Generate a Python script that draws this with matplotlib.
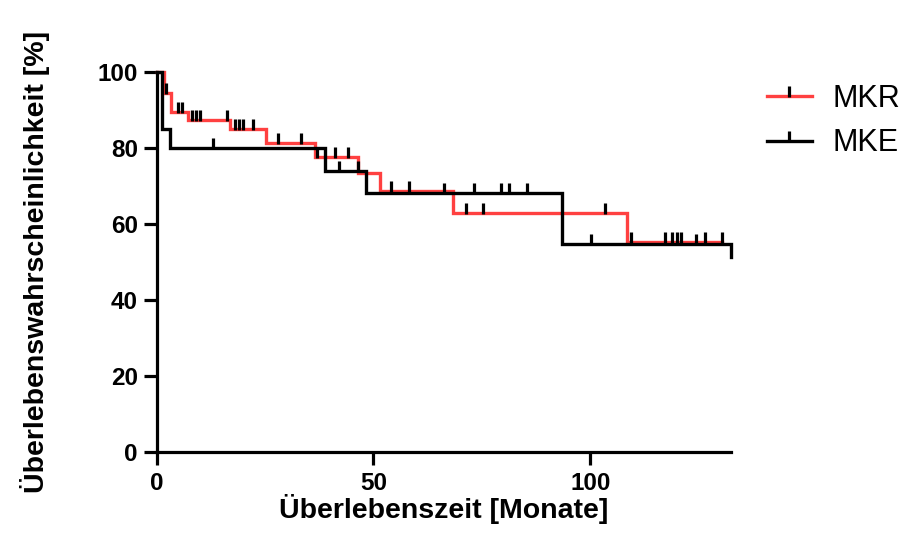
import numpy as np
import matplotlib
matplotlib.use("Agg")
import matplotlib.pyplot as plt
from matplotlib.path import Path
from matplotlib.lines import Line2D

# ---- data ----
mkr_times = [0, 1.6, 3.2, 7.3, 16.9, 25.1, 36.5, 46.5, 51.5, 68.3, 108.4]
mkr_surv = [100, 94.5, 89.6, 87.5, 85.0, 81.4, 77.6, 73.5, 68.8, 62.9, 55.4]
mkr_end = 130.4
mkr_censor = [2.1, 5.0, 5.9, 8.1, 9.0, 10.0, 16.1, 18.0, 19.0, 20.0, 22.1,
              28.0, 33.2, 36.9, 41.1, 44.2, 54.1, 58.1, 71.4, 75.2, 103.4,
              109.4, 117.3, 118.9, 120.0, 121.0, 126.5, 130.4]

mke_times = [0, 1.15, 3.1, 38.8, 48.2, 93.4, 132.5]
mke_surv = [100, 85.0, 80.0, 74.0, 68.3, 54.9, 51.5]
mke_end = 132.5
mke_censor = [13.0, 42.1, 46.4, 66.3, 73.3, 79.4, 81.3, 85.4, 100.3, 124.4]

labels = ["MKR", "MKE"]
x_ticks = [0, 50, 100]
y_ticks = [0, 20, 40, 60, 80, 100]

RED = "#FF4040"
BLACK = "#000000"

plt.rcParams['font.family'] = ['Liberation Sans', 'DejaVu Sans']

fig = plt.figure(figsize=(9.05, 5.42), dpi=100)
ax = fig.add_axes([0.1732, 0.1655, 0.6346, 0.7011])

tick_marker = Path([(0, -0.15), (0, 1.0)], [Path.MOVETO, Path.LINETO])


def surv_at(times, surv, t):
    idx = np.searchsorted(np.array(times), np.array(t), side='right') - 1
    return np.array(surv)[idx]


series = [
    (mkr_times, mkr_surv, mkr_end, mkr_censor, RED, 2),
    (mke_times, mke_surv, mke_end, mke_censor, BLACK, 3),
]
handles = []
for (times, surv, end, cens, col, z), lab in zip(series, labels):
    xs = list(times) + [end]
    ys = list(surv) + [surv[-1]]
    ax.plot(xs, ys, drawstyle='steps-post', color=col, lw=2.4,
            clip_on=False, zorder=z, solid_joinstyle='miter')
    ax.plot(cens, surv_at(times, surv, cens), linestyle='none',
            marker=tick_marker, markersize=14, markeredgewidth=2.3,
            markeredgecolor=BLACK, clip_on=False, zorder=5)
    handles.append(Line2D([0], [0], color=col, lw=2.4, marker=tick_marker,
                          markersize=14, markeredgewidth=2.3,
                          markeredgecolor=BLACK))

ax.set_xlim(0, 132.5)
ax.set_ylim(0, 100)
ax.set_xticks(x_ticks)
ax.set_yticks(y_ticks)
for s in ['top', 'right']:
    ax.spines[s].set_visible(False)
for s in ['left', 'bottom']:
    ax.spines[s].set_linewidth(2.3)
ax.tick_params(axis='both', direction='out', length=9.5, width=2.3,
               labelsize=17.5)
ax.tick_params(axis='x', pad=5)
ax.tick_params(axis='y', pad=4)
for lbl in ax.get_xticklabels() + ax.get_yticklabels():
    lbl.set_fontweight('bold')

ax.set_xlabel("Überlebenszeit [Monate]", fontsize=20.5, fontweight='bold',
              labelpad=-1)
ax.set_ylabel("Überlebenswahrscheinlichkeit [%]", fontsize=20.5,
              fontweight='bold', labelpad=34)

fig.legend(handles, labels, loc='upper left', bbox_to_anchor=(0.847, 0.845),
           frameon=False, fontsize=22, handlelength=1.5, handletextpad=0.65,
           labelspacing=0.47, borderpad=0, borderaxespad=0, numpoints=1)

fig.savefig("out.png", dpi=100)
